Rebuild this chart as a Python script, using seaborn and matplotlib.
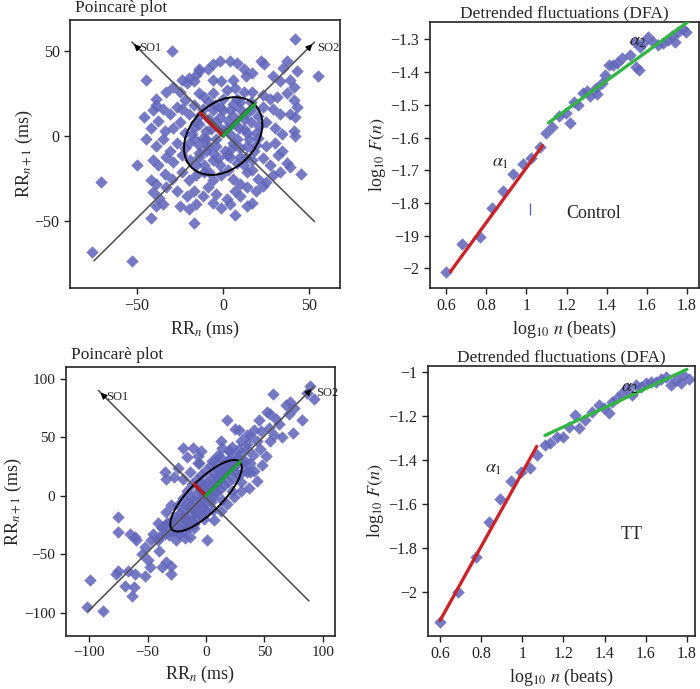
"""Poincaré + DFA panels (Control vs TT)"""

import matplotlib

matplotlib.use("Agg")
import matplotlib.pyplot as plt
import numpy as np
import pandas as pd
import seaborn as sns
from matplotlib.patches import Ellipse

# ---- Poincaré data: (RR_n, RR_n+1) in ms ----
ctrl_rr_pairs = [
    (-30, 50), (-45, 33), (42, 57), (55, 35), (37, 44),
    (-2, 44), (4, 44), (8, 43), (12, 39), (22, 44), (24, 42), (-14, 39), (-9, 39), (-6, 42),
    (-24, 33), (-20, 34), (-16, 36), (-14, 38), (-21, 31), (-17, 32), (-6, 33), (-1, 32),
    (6, 33), (13, 35), (17, 37), (29, 35), (33, 32), (39, 33), (43, 38), (35, 40), (41, 29),
    (-39, 22), (-33, 26), (-29, 29), (-25, 26), (-22, 21), (-14, 25), (-11, 23), (-6, 25),
    (2, 27), (7, 28), (12, 26), (17, 26), (23, 24), (27, 22), (31, 23), (41, 21), (43, 17), (37, 25),
    (-46, 11), (-41, 15), (-39, 18), (-35, 16), (-31, 13), (-27, 17), (-24, 16), (-20, 13),
    (-17, 18), (-12, 16), (-6, 15), (-2, 17), (4, 15), (6, 19), (10, 16), (13, 13), (17, 16),
    (23, 17), (29, 16), (33, 13), (39, 13), (42, 11),
    (-42, 5), (-38, 9), (-34, 3), (-29, 5), (-25, 8), (-22, 2), (-17, 5), (-14, 7), (-10, 3),
    (-4, 8), (2, 5), (7, 7), (12, 4), (16, 8), (19, 2), (25, 8), (30, 5), (34, 1), (41, 3),
    (-45, -2), (-39, -6), (-35, -2), (-31, -9), (-27, -4), (-22, -7), (-17, -2), (-14, -5),
    (-9, -6), (-4, -2), (1, -9), (6, -4), (10, -7), (15, -2), (19, -5), (25, -6), (30, -4),
    (34, -9), (42, 0),
    (-50, -17), (-41, -14), (-38, -17), (-33, -12), (-29, -15), (-24, -11), (-19, -14),
    (-14, -12), (-11, -17), (-6, -14), (-2, -17), (4, -12), (8, -16), (13, -12), (17, -14),
    (23, -13), (27, -17), (32, -11), (37, -16), (45, -22),
    (-71, -27), (-42, -26), (-39, -28), (-34, -22), (-30, -25), (-24, -21), (-20, -26),
    (-16, -23), (-11, -21), (-6, -26), (-1, -23), (6, -25), (10, -28), (14, -21), (20, -25),
    (25, -27), (29, -23), (33, -21), (39, -18),
    (-41, -33), (-37, -36), (-33, -30), (-27, -32), (-21, -35), (-17, -32), (-12, -35),
    (-9, -30), (-4, -34), (2, -37), (7, -32), (10, -35), (14, -30), (19, -32), (23, -29),
    (-42, -48), (-39, -41), (-35, -40), (-25, -41), (-20, -43), (-16, -40), (-6, -39),
    (-1, -42), (4, -40), (7, -46), (14, -41), (17, -39),
    (-17, -51), (-76, -68), (-53, -73),
    (-14, 12), (-8, 10), (-2, 11), (6, 12), (12, 10), (-10, -2), (-4, -6), (4, 1), (8, -2),
    (14, -6), (-14, -10), (-6, -10), (2, -11), (10, -12), (18, -9), (-20, -4), (-16, 8),
    (20, 12), (-8, 20), (0, 22), (8, 22), (16, 20),
    (-18, 1), (-12, -1), (-7, 4), (-1, 4), (3, 9), (9, 5), (14, 2), (20, -1), (-3, -13),
    (5, -7), (12, -17), (-10, -9), (-16, -17), (0, 15), (-5, 18), (10, 20), (3, -20),
    (-8, -21), (17, -20), (21, 6),
]

tt_rr_pairs = [
    (57, 87), (89, 94), (92, 83), (72, 80), (75, 75), (82, 65), (74, 54), (71, 70), (52, 72),
    (55, 70), (62, 61), (54, 58), (47, 55), (41, 56), (38, 51), (44, 47), (35, 44), (30, 47),
    (25, 57), (18, 65), (20, 38), (13, 47), (14, 41), (-4, 38), (-7, 34), (-11, 41), (-7, 28),
    (-20, 41), (-16, 33), (-35, 20), (-34, 14), (-24, 24), (-27, 16), (51, 34), (55, 47),
    (48, 26), (41, 21), (35, 20), (44, 13), (37, 7), (30, 4), (24, -1), (18, -7), (13, -13),
    (7, -21), (-1, -16), (-10, -24), (-17, -27), (-24, -31), (-30, -30), (-35, -33), (-41, -38),
    (-75, -18), (-99, -72), (-102, -95), (-88, -99), (-62, -78), (-61, -67), (-67, -64),
    (-75, -64), (-77, -67), (-69, -77), (-63, -86), (-52, -69), (-48, -61), (-50, -55),
    (-40, -47), (-38, -61), (-34, -57), (-30, -67), (-30, -60), (-55, -50), (-52, -44),
    (-47, -38), (-60, -38), (-75, -31), (-65, -33), (-61, -35), (-45, -33), (-38, -27),
    (-41, -23), (-33, -23), (1, -38), (-14, -35),
    (65, 50), (60, 66), (68, 78), (86, 88), (45, 65), (35, 52), (28, 56), (22, 42), (40, 35),
    (46, 40), (58, 52), (33, 30), (25, 20), (38, 28), (18, 30), (10, 35), (5, 30),
    (-35, -25), (-32, -34), (-30, -22), (-28, -30), (-26, -18), (-25, -27), (-23, -33),
    (-22, -15), (-20, -24), (-19, -30), (-18, -12), (-16, -20), (-15, -27), (-14, -8),
    (-13, -16), (-12, -22), (-11, -4), (-10, -12), (-9, -19), (-8, 2), (-7, -8), (-6, -15),
    (-5, 5), (-4, -3), (-3, -10), (-2, 9), (-1, 0), (0, -6), (1, 12), (2, 4), (3, -3),
    (4, 15), (5, 7), (6, -1), (7, 19), (8, 10), (9, 3), (10, 22), (11, 13), (12, 6), (13, 25),
    (14, 17), (15, 9), (16, 28), (18, 20), (19, 12), (20, 31), (22, 24), (23, 15), (25, 33),
    (26, 26), (28, 18), (30, 37), (31, 29), (33, 22), (35, 40), (-24, -8), (-20, -2),
    (-16, 4), (-12, 10), (-8, 14), (-4, 18), (0, 22), (4, 26), (8, 30), (12, 33), (-38, -28),
    (-40, -35), (-26, -38), (-18, -36), (-10, -28), (-2, -20), (6, -12), (14, -4), (22, 4),
    (30, 12), (38, 20), (-34, -14), (-30, -8), (28, 40), (20, 38), (-6, 28), (-14, 20), (-20, 14),
    (-27, -22), (-21, -18), (-17, -8), (-13, -2), (-9, -14), (-5, -8), (-1, -12), (3, 8),
    (7, 2), (11, 18), (15, 22), (19, 24), (24, 28), (27, 32), (-4, 11), (0, 4), (4, -5),
    (9, 14), (-15, -23), (-19, -20),
]

# SD1 / SD2 of the fitted ellipse (ms)
ctrl_sd1, ctrl_sd2 = 19, 26
tt_sd1, tt_sd2 = 14, 41

# SO1 / SO2 axis lines: (start, arrow tip)
ctrl_so1 = [(53, -50), (-53, 55)]
ctrl_so2 = [(-75, -73), (53, 55)]
tt_so1 = [(88, -90), (-92, 90)]
tt_so2 = [(-101, -99), (92, 93)]

# ---- DFA data: log10 n vs log10 F(n) ----
ctrl_logn = [0.60, 0.68, 0.767, 0.83, 0.883, 0.933, 0.983, 1.025, 1.067, 1.10, 1.13, 1.163,
             1.197, 1.217, 1.237, 1.258, 1.283, 1.30, 1.317, 1.347, 1.353, 1.375, 1.392,
             1.413, 1.433, 1.45, 1.475, 1.517, 1.542, 1.547, 1.563, 1.567, 1.583, 1.608,
             1.633, 1.658, 1.683, 1.708, 1.725, 1.742, 1.758, 1.78, 1.797]
ctrl_logf = [-2.01, -1.927, -1.903, -1.814, -1.763, -1.71, -1.681, -1.664, -1.628, -1.587,
             -1.567, -1.534, -1.526, -1.555, -1.49, -1.50, -1.465, -1.457, -1.473, -1.45,
             -1.467, -1.434, -1.409, -1.378, -1.378, -1.373, -1.358, -1.348, -1.307, -1.384,
             -1.394, -1.322, -1.312, -1.292, -1.307, -1.317, -1.312, -1.302, -1.29, -1.307,
             -1.277, -1.269, -1.277]
tt_logn = [0.60, 0.689, 0.775, 0.84, 0.892, 0.945, 0.994, 1.035, 1.073, 1.111, 1.135, 1.167,
           1.20, 1.225, 1.258, 1.277, 1.306, 1.338, 1.373, 1.397, 1.422, 1.438, 1.462, 1.486,
           1.511, 1.535, 1.551, 1.576, 1.602, 1.625, 1.65, 1.674, 1.699, 1.723, 1.747, 1.772,
           1.78, 1.808]
tt_logf = [-2.136, -2.0, -1.841, -1.682, -1.58, -1.495, -1.455, -1.436, -1.379, -1.333,
           -1.326, -1.295, -1.295, -1.253, -1.197, -1.258, -1.22, -1.182, -1.152, -1.167,
           -1.189, -1.136, -1.121, -1.098, -1.076, -1.106, -1.061, -1.068, -1.053, -1.045,
           -1.045, -1.035, -1.023, -1.061, -1.038, -1.05, -1.015, -1.035]

# short / long range fits (end points)
ctrl_a1_x, ctrl_a1_y = [0.62, 1.08], [-2.01, -1.625]
ctrl_a2_x, ctrl_a2_y = [1.11, 1.81], [-1.555, -1.245]
tt_a1_x, tt_a1_y = [0.60, 1.07], [-2.13, -1.34]
tt_a2_x, tt_a2_y = [1.11, 1.80], [-1.29, -0.99]

ctrl_dfa_yticks = [-2.0, -1.9, -1.8, -1.7, -1.6, -1.5, -1.4, -1.3]
ctrl_dfa_ylabels = ["\u22122", "\u221219", "\u22121.8", "\u22121.7", "\u22121.6",
                    "\u22121.5", "\u22121.4", "\u22121.3"]
tt_dfa_yticks = [-2.0, -1.8, -1.6, -1.4, -1.2, -1.0]
tt_dfa_ylabels = ["\u22122", "\u22121.8", "\u22121.6", "\u22121.4", "\u22121.2", "\u22121"]
dfa_xticks = [0.6, 0.8, 1.0, 1.2, 1.4, 1.6, 1.8]
dfa_xlabels = ["0.6", "0.8", "1", "1.2", "1.4", "1.6", "1.8"]

POINT = "#6367bb"
RED = "#c8252a"
GREEN = "#33b545"

sns.set_theme(style="ticks")
plt.rcParams["font.family"] = ["Liberation Serif", "DejaVu Serif"]
plt.rcParams["mathtext.fontset"] = "stix"
plt.rcParams["axes.edgecolor"] = "#222222"
plt.rcParams["axes.linewidth"] = 1.2


def style_axes(ax):
    ax.tick_params(direction="out", length=4, width=1, labelsize=11.5, colors="#222222")
    for sp in ax.spines.values():
        sp.set_visible(True)


def poincare(ax, pairs, sd1, sd2, so1, so2, lim, ticks, title):
    df = pd.DataFrame(pairs, columns=["rr_n", "rr_n1"])
    sns.scatterplot(data=df, x="rr_n", y="rr_n1", marker="D", s=40, color=POINT,
                    linewidth=0, alpha=0.88, ax=ax, zorder=2)
    for start, tip in (so1, so2):
        ax.plot([start[0], tip[0]], [start[1], tip[1]], color="#555555", lw=1.2, zorder=3)
        ax.annotate("", xy=tip, xytext=(start[0] + (tip[0] - start[0]) * 0.97,
                                        start[1] + (tip[1] - start[1]) * 0.97),
                    arrowprops=dict(arrowstyle="-|>", color="black", lw=1, mutation_scale=9),
                    zorder=4)
    ax.text(so1[1][0] + lim[1] * 0.06, so1[1][1], "SO1", fontsize=9, va="top", ha="left")
    ax.text(so2[1][0] + lim[1] * 0.02, so2[1][1], "SO2", fontsize=9, va="top", ha="left")
    ax.add_patch(Ellipse((0, 0), 2 * sd2, 2 * sd1, angle=45, fill=False, ec="black",
                         lw=1.4, zorder=4))
    r = 1 / np.sqrt(2)
    ax.plot([0, -sd1 * r], [0, sd1 * r], color="#b01e24", lw=2.6, zorder=5)
    ax.plot([0, sd2 * r], [0, sd2 * r], color="#1f9e3c", lw=2.6, zorder=5)
    ax.set_xlim(*lim)
    ax.set_ylim(*lim)
    ax.set_xticks(ticks)
    ax.set_yticks(ticks)
    ax.set_xlabel("RR$_{n}$ (ms)", fontsize=13, labelpad=3)
    ax.set_ylabel("RR$_{n+1}$ (ms)", fontsize=13, labelpad=0)
    ax.text(0.02, 1.015, title, transform=ax.transAxes, fontsize=12.5, ha="left", va="bottom")
    style_axes(ax)


def dfa(ax, logn, logf, a1, a2, xlim, ylim, yticks, ylabels, group, group_xy, a1_xy, a2_xy):
    df = pd.DataFrame({"logn": logn, "logf": logf})
    sns.scatterplot(data=df, x="logn", y="logf", marker="D", s=40, color=POINT,
                    linewidth=0, alpha=0.88, ax=ax, zorder=2)
    sns.lineplot(x=a1[0], y=a1[1], color=RED, lw=2.4, ax=ax, zorder=3)
    sns.lineplot(x=a2[0], y=a2[1], color=GREEN, lw=2.4, ax=ax, zorder=3)
    ax.text(*a1_xy, r"$\alpha_1$", fontsize=13)
    ax.text(*a2_xy, r"$\alpha_2$", fontsize=13)
    ax.text(*group_xy, group, fontsize=13)
    ax.set_xlim(*xlim)
    ax.set_ylim(*ylim)
    ax.set_xticks(dfa_xticks)
    ax.set_xticklabels(dfa_xlabels)
    ax.set_yticks(yticks)
    ax.set_yticklabels(ylabels)
    ax.set_xlabel("log$_{10}$ $n$ (beats)", fontsize=13, labelpad=3)
    ax.set_ylabel("log$_{10}$ $F(n)$", fontsize=13, labelpad=2)
    ax.set_title("Detrended fluctuations (DFA)", fontsize=12.5, pad=3)
    style_axes(ax)


fig = plt.figure(figsize=(7, 6.89), dpi=100)
ax1 = fig.add_axes([0.100, 0.582, 0.386, 0.389])
ax2 = fig.add_axes([0.614, 0.582, 0.384, 0.386])
ax3 = fig.add_axes([0.094, 0.077, 0.384, 0.390])
ax4 = fig.add_axes([0.611, 0.077, 0.382, 0.392])

poincare(ax1, ctrl_rr_pairs, ctrl_sd1, ctrl_sd2, ctrl_so1, ctrl_so2, (-89, 68),
         [-50, 0, 50], "Poincarè plot")
poincare(ax3, tt_rr_pairs, tt_sd1, tt_sd2, tt_so1, tt_so2, (-120, 110),
         [-100, -50, 0, 50, 100], "Poincarè plot")
ax3.tick_params(labelsize=11)

dfa(ax2, ctrl_logn, ctrl_logf, (ctrl_a1_x, ctrl_a1_y), (ctrl_a2_x, ctrl_a2_y),
    (0.517, 1.86), (-2.06, -1.247), ctrl_dfa_yticks, ctrl_dfa_ylabels,
    "Control", (1.2, -1.845), (0.83, -1.69), (1.51, -1.32))
ax2.plot([1.02], [-1.82], marker="|", ms=8, color=POINT)

dfa(ax4, tt_logn, tt_logf, (tt_a1_x, tt_a1_y), (tt_a2_x, tt_a2_y),
    (0.54, 1.84), (-2.2, -0.974), tt_dfa_yticks, tt_dfa_ylabels,
    "TT", (1.48, -1.76), (0.82, -1.46), (1.48, -1.09))

fig.savefig("out.png", dpi=100)
